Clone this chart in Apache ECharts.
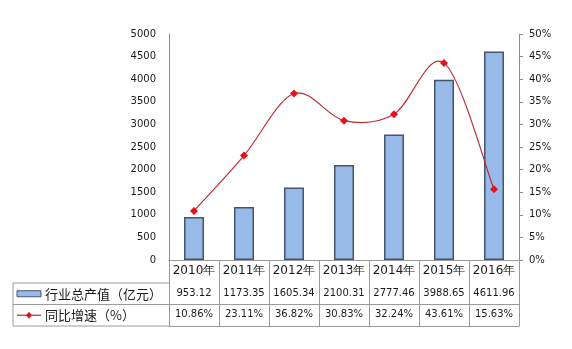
<!DOCTYPE html>
<html>
<head>
<meta charset="utf-8">
<script src="https://cdn.jsdelivr.net/npm/echarts@6/dist/echarts.min.js"></script>
<style>
  html, body { margin: 0; padding: 0; background: #fff; }
  #chart { width: 572px; height: 349px; }
</style>
</head>
<body>
<div id="chart"></div>
<script>
// Output value (100 million yuan) and year-on-year growth, 2010–2016
var years = ['2010年', '2011年', '2012年', '2013年', '2014年', '2015年', '2016年'];
var outputValue = [953.12, 1173.35, 1605.34, 2100.31, 2777.46, 3988.65, 4611.96];
var growthRate = [10.86, 23.11, 36.82, 30.83, 32.24, 43.61, 15.63];
var seriesNames = ['行业总产值（亿元）', '同比增速（%）'];

var numFont = 'DejaVu Sans, Verdana, sans-serif';
var cjkFont = 'Noto Sans CJK SC, sans-serif';
var textColor = '#1a1a1a';
var tableLine = '#9a9a9a';
var barFill = '#98BAE8';
var barEdge = '#46556B';
var lineColor = '#BC2A30';
var markColor = '#E3121C';

var gridLeft = 169, gridRight = 53, gridTop = 34, gridBottom = 89;
var row1 = 260, row2 = 283, row3 = 304.5, row4 = 326;
var tableLeft = 13;

var chart = echarts.init(document.getElementById('chart'), null, { renderer: 'canvas' });

function tableAxis(labels, offset) {
  return {
    type: 'category',
    position: 'bottom',
    offset: offset,
    data: labels,
    axisLine: { show: true, lineStyle: { color: tableLine, width: 1 } },
    axisTick: { show: false },
    axisLabel: {
      show: true,
      interval: 0,
      margin: 5,
      fontSize: 10,
      fontFamily: numFont,
      color: textColor
    },
    splitLine: { show: false }
  };
}

// Smoothed growth curve: cardinal (Catmull-Rom) segments between neighbouring points
function renderCurveSegment(params, api) {
  var i = params.dataIndex;
  var n = growthRate.length;
  if (i >= n - 1) return null;
  var pt = function (k) {
    k = Math.max(0, Math.min(n - 1, k));
    return api.coord([k, growthRate[k]]);
  };
  var p0 = pt(i - 1), p1 = pt(i), p2 = pt(i + 1), p3 = pt(i + 2);
  var t = 1 / 6;
  return {
    type: 'bezierCurve',
    shape: {
      x1: p1[0], y1: p1[1],
      x2: p2[0], y2: p2[1],
      cpx1: p1[0] + (p2[0] - p0[0]) * t,
      cpy1: p1[1] + (p2[1] - p0[1]) * t,
      cpx2: p2[0] - (p3[0] - p1[0]) * t,
      cpy2: p2[1] - (p3[1] - p1[1]) * t
    },
    style: { stroke: lineColor, lineWidth: 1.1, fill: null }
  };
}

var option = {
  animation: false,
  backgroundColor: '#ffffff',
  grid: { left: gridLeft, right: gridRight, top: gridTop, bottom: gridBottom },
  xAxis: [
    {
      type: 'category',
      position: 'bottom',
      data: years,
      axisLine: { show: true, lineStyle: { color: tableLine, width: 1 } },
      axisTick: { show: true, interval: 0, length: row4 - row1, lineStyle: { color: tableLine } },
      axisLabel: {
        interval: 0,
        margin: 5,
        fontSize: 12,
        fontFamily: numFont,
        color: textColor
      },
      splitLine: { show: false }
    },
    tableAxis(outputValue.map(function (v) { return v.toFixed(2); }), row2 - row1),
    tableAxis(growthRate.map(function (v) { return v.toFixed(2) + '%'; }), row3 - row1),
    tableAxis(years.map(function () { return ''; }), row4 - row1)
  ],
  yAxis: [
    {
      type: 'value',
      min: 0,
      max: 5000,
      interval: 500,
      axisLine: { show: true, lineStyle: { color: '#8c8c8c' } },
      axisTick: { show: false },
      axisLabel: {
        margin: 13, fontSize: 10, fontFamily: numFont, color: textColor,
        formatter: function (v) { return String(v); }
      },
      splitLine: { show: false }
    },
    {
      type: 'value',
      min: 0,
      max: 50,
      interval: 5,
      position: 'right',
      axisLine: { show: true, lineStyle: { color: '#8c8c8c' } },
      axisTick: { show: true, length: 4, lineStyle: { color: '#8c8c8c' } },
      axisLabel: { margin: 10, fontSize: 10, fontFamily: numFont, color: textColor, formatter: '{value}%' },
      splitLine: { show: false }
    }
  ],
  series: [
    {
      name: seriesNames[0],
      type: 'bar',
      xAxisIndex: 0,
      yAxisIndex: 0,
      data: outputValue,
      barWidth: 20,
      itemStyle: { color: barFill, borderColor: barEdge, borderWidth: 1.5 }
    },
    {
      name: seriesNames[1] + '曲线',
      type: 'custom',
      xAxisIndex: 0,
      yAxisIndex: 1,
      renderItem: renderCurveSegment,
      data: growthRate.map(function (v, k) { return [k, v]; }),
      encode: { x: 0, y: 1 },
      z: 3
    },
    {
      name: seriesNames[1],
      type: 'line',
      xAxisIndex: 0,
      yAxisIndex: 1,
      data: growthRate,
      symbol: 'diamond',
      symbolSize: 8,
      lineStyle: { width: 0, opacity: 0 },
      itemStyle: { color: markColor },
      z: 4
    }
  ],
  graphic: [
    // header column of the data table
    { type: 'line', shape: { x1: tableLeft, y1: row2, x2: gridLeft, y2: row2 }, style: { stroke: tableLine, lineWidth: 1 } },
    { type: 'line', shape: { x1: tableLeft, y1: row3, x2: gridLeft, y2: row3 }, style: { stroke: tableLine, lineWidth: 1 } },
    { type: 'line', shape: { x1: tableLeft, y1: row4, x2: gridLeft, y2: row4 }, style: { stroke: tableLine, lineWidth: 1 } },
    { type: 'line', shape: { x1: tableLeft, y1: row2, x2: tableLeft, y2: row4 }, style: { stroke: tableLine, lineWidth: 1 } },
    // bar legend key
    { type: 'rect', shape: { x: 17, y: (row2 + row3) / 2 - 3, width: 24, height: 6 }, style: { fill: barFill, stroke: barEdge, lineWidth: 1 } },
    { type: 'text', x: 45, y: (row2 + row3) / 2, style: { text: seriesNames[0], font: '13px ' + cjkFont, fill: textColor, verticalAlign: 'middle' } },
    // line legend key
    { type: 'line', shape: { x1: 17, y1: (row3 + row4) / 2, x2: 41, y2: (row3 + row4) / 2 }, style: { stroke: lineColor, lineWidth: 1.2 } },
    { type: 'polygon', shape: { points: [[29, (row3 + row4) / 2 - 3.5], [32, (row3 + row4) / 2], [29, (row3 + row4) / 2 + 3.5], [26, (row3 + row4) / 2]] }, style: { fill: markColor } },
    { type: 'text', x: 45, y: (row3 + row4) / 2, style: { text: seriesNames[1], font: '13px ' + cjkFont, fill: textColor, verticalAlign: 'middle' } }
  ]
};

chart.setOption(option);
</script>
</body>
</html>
